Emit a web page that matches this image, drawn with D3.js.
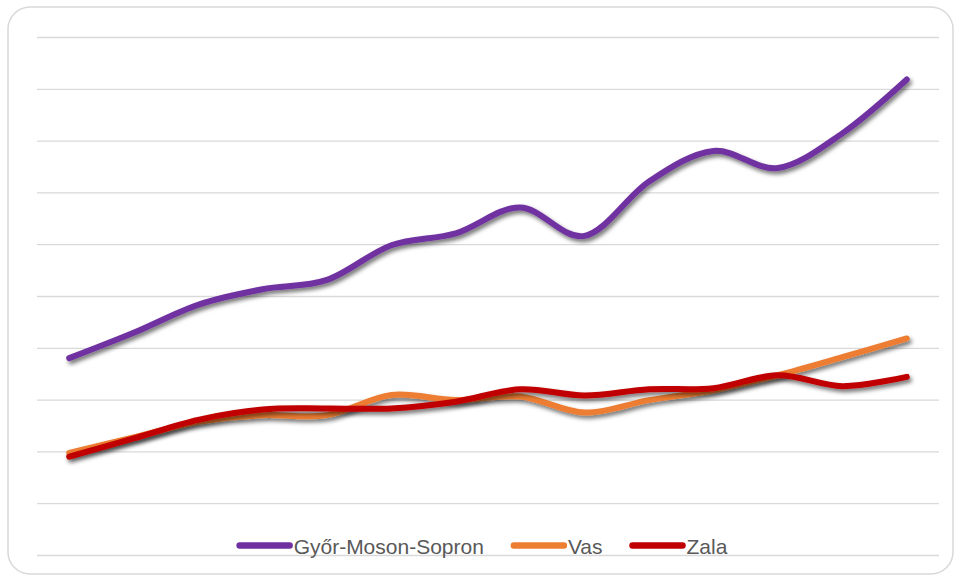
<html>
<head>
<script src="https://d3js.org/d3.v7.min.js"></script>
<style>
  body { margin: 0; background: #fff; }
</style>
</head>
<body>
<svg width="957" height="579"></svg>
<script>
// values (no axis labels are shown in the chart)
const periods = ["1","2","3","4","5","6","7","8","9","10","11","12","13","14"];
const gyorMosonSopron = [3.80, 4.29, 4.83, 5.13, 5.31, 5.98, 6.21, 6.71, 6.16, 7.21, 7.80, 7.47, 8.14, 9.18];
const vas             = [1.97, 2.27, 2.57, 2.70, 2.70, 3.09, 2.99, 3.06, 2.75, 2.99, 3.18, 3.47, 3.82, 4.18];
const zala            = [1.90, 2.25, 2.61, 2.81, 2.83, 2.83, 2.96, 3.20, 3.08, 3.20, 3.22, 3.47, 3.26, 3.44];
const seriesNames = ["Győr-Moson-Sopron", "Vas", "Zala"];
const yTicks = [0, 1, 2, 3, 4, 5, 6, 7, 8, 9, 10];

const colors = ["#7030A0", "#ED7D31", "#C00000"];
const seriesValues = [gyorMosonSopron, vas, zala];

const svg = d3.select("svg");

// outer frame
svg.append("rect")
  .attr("x", 8).attr("y", 7)
  .attr("width", 945).attr("height", 567)
  .attr("rx", 22).attr("ry", 22)
  .attr("fill", "#fff")
  .attr("stroke", "#d9d9d9")
  .attr("stroke-width", 1.5);

const plotLeft = 37, plotRight = 939, plotTop = 37, plotBottom = 555;

const xs = d3.scalePoint().domain(periods).range([plotLeft, plotRight]).padding(0.5);
const ys = d3.scaleLinear().domain([0, 10]).range([plotBottom, plotTop]);

// shadow filter
const defs = svg.append("defs");
const f = defs.append("filter").attr("id", "shadow")
  .attr("x", "-10%").attr("y", "-30%").attr("width", "120%").attr("height", "160%");
f.append("feDropShadow")
  .attr("dx", 2).attr("dy", 3)
  .attr("stdDeviation", 2.2)
  .attr("flood-color", "#000")
  .attr("flood-opacity", 0.55);

// gridlines
const grid = svg.append("g")
  .attr("transform", "translate(" + plotLeft + ",0)")
  .call(d3.axisLeft(ys).tickValues(yTicks).tickSize(-(plotRight - plotLeft)).tickFormat(""));
grid.select(".domain").remove();
grid.selectAll(".tick line").attr("stroke", "#d9d9d9").attr("stroke-width", 1.3);

// lines
const line = d3.line()
  .x(function(d, i) { return xs(periods[i]); })
  .y(function(d) { return ys(d); })
  .curve(d3.curveCardinal.tension(0));

seriesValues.forEach(function(vals, k) {
  svg.append("path")
    .datum(vals)
    .attr("fill", "none")
    .attr("stroke", colors[k])
    .attr("stroke-width", 6)
    .attr("stroke-linecap", "round")
    .attr("stroke-linejoin", "round")
    .attr("filter", "url(#shadow)")
    .attr("d", line);
});

// legend
const legend = svg.append("g");
let lx = 0;
const legY = 545.5;
seriesNames.forEach(function(name, k) {
  const g = legend.append("g").attr("transform", "translate(" + lx + ",0)");
  g.append("line")
    .attr("x1", 3).attr("x2", 53)
    .attr("y1", legY).attr("y2", legY)
    .attr("stroke", colors[k])
    .attr("stroke-width", 6.5)
    .attr("stroke-linecap", "round");
  const t = g.append("text")
    .attr("x", 57).attr("y", legY + 8)
    .attr("font-family", "'Liberation Sans', Arial, sans-serif")
    .attr("font-size", 21)
    .attr("fill", "#595959")
    .text(name);
  lx += 57 + t.node().getComputedTextLength() + 27;
});
const legW = lx - 27;
legend.attr("transform", "translate(" + (482 - legW / 2) + ",0)");
</script>
</body>
</html>
